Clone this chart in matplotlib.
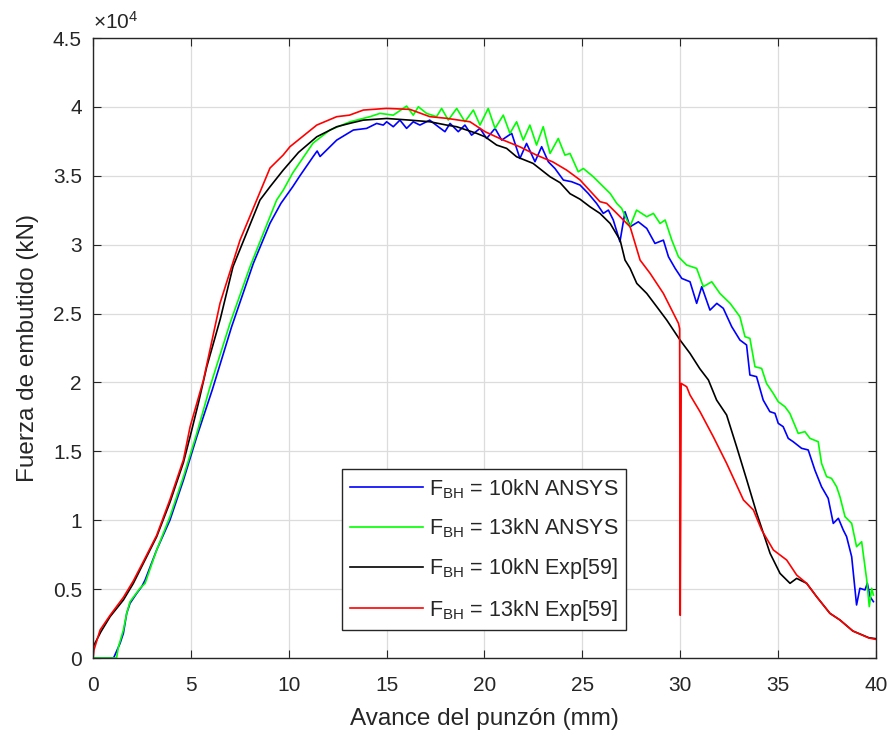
import matplotlib
matplotlib.use("Agg")
import matplotlib.pyplot as plt
from matplotlib.ticker import FuncFormatter, MultipleLocator

plt.rcParams['font.family'] = ['Liberation Sans', 'DejaVu Sans']
plt.rcParams['mathtext.fontset'] = 'custom'
plt.rcParams['mathtext.rm'] = 'Liberation Sans'
plt.rcParams['mathtext.it'] = 'Liberation Sans'

# Punch force vs punch stroke (x in mm, force values as plotted)
ansys10_x = [0, 1.05, 1.38, 1.55, 1.72, 1.89, 2.23, 2.49, 2.66, 3.25, 3.93, 4.62, 5.3, 6.1, 7.08,
             8.19, 9.04, 9.6, 10.2, 10.57, 11.25, 11.45, 11.6, 12.45, 13.3, 13.98, 14.49, 14.83,
             15.0, 15.34, 15.68, 16.02, 16.36, 16.7, 17.2, 17.64, 17.98, 18.24, 18.66, 19.0, 19.34,
             19.77, 20.11, 20.54, 20.88, 21.39, 21.81, 22.15, 22.58, 22.92, 23.26, 23.6, 24.03,
             24.45, 24.88, 25.3, 25.73, 26.07, 26.33, 26.58, 26.92, 27.18, 27.44, 27.86, 28.29,
             28.71, 29.14, 29.4, 29.74, 30.08, 30.5, 30.84, 31.1, 31.52, 31.87, 32.2, 32.63, 33.05,
             33.39, 33.56, 33.9, 34.24, 34.58, 34.84, 35.01, 35.26, 35.52, 35.77, 36.2, 36.54,
             36.88, 37.22, 37.56, 37.82, 38.08, 38.33, 38.5, 38.76, 39.01, 39.18, 39.44, 39.56,
             39.7, 39.87]
ansys10_f = [0, 0, 1060, 1790, 3240, 3970, 4690, 5180, 5660, 7840, 10010, 12920, 16060, 19500, 24040,
             28640, 31550, 33000, 34200, 35000, 36400, 36800, 36400, 37590, 38320, 38440, 38800, 38680,
             38920, 38560, 39040, 38440, 38920, 38680, 39040, 38560, 38200, 38800, 38200, 38680, 37950,
             38440, 37710, 38440, 37590, 38080, 36260, 37350, 36020, 37110, 36020, 35530, 34690,
             34570, 34330, 33720, 32990, 32270, 32510, 31790, 30210, 32390, 31300, 31660, 31180,
             30090, 30330, 29120, 28280, 27550, 27310, 25740, 26950, 25250, 25740, 25380, 24050, 23080,
             22720, 20540, 20420, 18720, 17880, 17760, 17030, 16790, 15940, 15700, 15220, 15100,
             13640, 12430, 11590, 9770, 10140, 9290, 8810, 7350, 3850, 5060, 4940, 5420,
             4450, 4090]

ansys13_x = [0, 1.2, 1.3, 1.55, 1.72, 1.89, 2.4, 2.66, 3.25, 3.93, 4.62, 5.3, 5.98, 7.0, 8.02,
             9.38, 9.72, 10.2, 11.24, 12.1, 13.13, 14.15, 14.66, 15.34, 16.02, 16.36, 16.62, 17.04,
             17.55, 17.81, 18.15, 18.58, 19.0, 19.43, 19.77, 20.19, 20.54, 20.96, 21.3, 21.64,
             21.98, 22.32, 22.66, 23.0, 23.35, 23.77, 24.11, 24.37, 24.79, 25.05, 25.56, 25.9,
             26.42, 26.76, 27.01, 27.43, 27.77, 28.29, 28.63, 28.97, 29.23, 29.57, 29.91, 30.33,
             30.84, 31.18, 31.61, 32.03, 32.55, 33.05, 33.31, 33.56, 33.82, 34.16, 34.41, 34.75,
             35.01, 35.35, 35.6, 36.03, 36.37, 36.63, 37.05, 37.22, 37.48, 37.73, 37.99, 38.16,
             38.42, 38.76, 39.01, 39.27, 39.53, 39.66, 39.78, 39.87]
ansys13_f = [0, 0, 820, 2030, 3240, 4090, 5060, 5420, 7840, 10260, 13160, 16300, 19700, 24300, 28400,
             33240, 33960, 35200, 37370, 38320, 38920, 39290, 39530, 39400, 40060, 39400, 40010, 39530,
             39290, 39890, 39040, 39890, 38920, 39770, 38680, 39890, 38440, 39400, 38080, 38920,
             37590, 38680, 37230, 38560, 36620, 37710, 36500, 36620, 35290, 35530, 34930, 34450,
             33720, 32990, 32630, 31300, 32510, 32030, 32270, 31540, 31790, 30330, 29120, 28520,
             28280, 26950, 27310, 26460, 25740, 24770, 23320, 23200, 21140, 21020, 19930, 19210,
             18600, 18240, 17760, 16300, 16430, 15940, 15700, 14130, 13160, 13040, 12430, 11710,
             10260, 9770, 8080, 8440, 5660, 3730, 5060, 4570]

exp10_x = [0, 0.4, 0.87, 1.55, 2.06, 2.57, 3.25, 3.93, 4.62, 5.0, 5.4, 5.81, 6.5, 7.15, 8.53, 9.04,
           9.71, 10.5, 11.43, 12.45, 13.1, 13.81, 15.0, 16.19, 17.21, 18.07, 18.58, 19.6, 20.03,
           20.62, 21.13, 21.64, 22.48, 23.35, 23.86, 24.37, 24.88, 25.39, 25.9, 26.42, 26.93,
           27.18, 27.44, 27.78, 28.29, 28.8, 29.31, 29.99, 30.5, 31.0, 31.44, 31.86, 32.37, 32.88,
           33.4, 33.91, 34.25, 34.59, 35.1, 35.61, 35.95, 36.46, 36.97, 37.65, 38.16, 38.82,
           39.64, 40.0]
exp10_f = [800, 1900, 3000, 4210, 5420, 6870, 8800, 11300, 14200, 16300, 18600, 21140, 24600, 28400,
           33240, 34200, 35400, 36700, 37830, 38560, 38800, 39040, 39160, 39040, 38920, 38680,
           38560, 38080, 37830, 37230, 36990, 36380, 35900, 34930, 34500, 33700, 33300, 32750,
           32270, 31540, 30330, 28880, 28280, 27190, 26460, 25500, 24530, 23080, 22110, 21000,
           20180, 18720, 17640, 15340, 12920, 10500, 9050, 7600, 6140, 5420, 5780, 5420, 4450,
           3240, 2760, 1960, 1470, 1400]

exp13_x = [0, 0.05, 0.36, 0.87, 1.55, 2.06, 2.57, 3.25, 3.93, 4.62, 4.96, 5.3, 5.64, 6.49, 7.51,
           9.04, 9.71, 10.06, 11.43, 12.45, 13.1, 13.81, 15.0, 16.19, 17.21, 18.07, 19.26, 20.03,
           20.96, 21.81, 22.66, 23.5, 24.2, 24.88, 25.9, 26.24, 26.76, 27.26, 27.44, 27.95, 28.46,
           29.14, 29.91, 29.97, 30.0, 30.05, 30.33, 30.5, 31.01, 31.69, 32.37, 33.23, 33.74, 34.16,
           34.76, 35.44, 35.95, 36.46, 36.97, 37.65, 38.16, 38.82, 39.64, 40.0]
exp13_f = [0, 600, 2030, 3100, 4400, 5600, 7000, 8900, 11500, 14400, 16790, 18480, 20170, 25760,
           30330, 35560, 36500, 37110, 38680, 39290, 39400, 39770, 39890, 39820, 39290, 39170,
           38920, 38200, 37590, 37100, 36500, 36000, 35410, 34700, 33120, 33000, 32270, 31550,
           31300, 28880, 27920, 26460, 24290, 23900, 3100, 19930, 19690, 19090, 17880, 16060,
           14130, 11470, 10740, 9290, 7840, 7110, 6020, 5420, 4450, 3240, 2760, 1960, 1450, 1350]

series = [
    (ansys10_x, ansys10_f, (0, 0, 1), r'F$_{\mathrm{BH}}$ = 10kN ANSYS'),
    (ansys13_x, ansys13_f, (0, 1, 0), r'F$_{\mathrm{BH}}$ = 13kN ANSYS'),
    (exp10_x, exp10_f, (0, 0, 0), r'F$_{\mathrm{BH}}$ = 10kN Exp[59]'),
    (exp13_x, exp13_f, (1, 0, 0), r'F$_{\mathrm{BH}}$ = 13kN Exp[59]'),
]

fig = plt.figure(figsize=(8.92, 7.38), dpi=100)
ax = fig.add_axes([0.1043, 0.1084, 0.8777, 0.8401])

for xs, fs, col, lab in series:
    ax.plot(xs, fs, color=col, lw=1.2, label=lab)

ax.set_xlim(0, 40)
ax.set_ylim(0, 45000)
ax.xaxis.set_major_locator(MultipleLocator(5))
ax.yaxis.set_major_locator(MultipleLocator(5000))
ax.yaxis.set_major_formatter(FuncFormatter(lambda v, p: f"{v/1e4:g}"))
ax.grid(True, color='#dcdcdc', lw=0.9)
ax.set_axisbelow(True)

txt = '#262626'
for s in ax.spines.values():
    s.set_color(txt)
    s.set_linewidth(1.0)
ax.tick_params(direction='in', length=6, width=0.8, top=True, right=True,
               labelsize=15, colors=txt)
ax.tick_params(axis='x', pad=13)
ax.tick_params(axis='y', pad=8)

ax.text(0.0, 1.008, r'$\times10^{4}$', transform=ax.transAxes, fontsize=15,
        color=txt, ha='left', va='bottom')

ax.set_xlabel('Avance del punzón (mm)', fontsize=17.5, color=txt, labelpad=9)
ax.set_ylabel('Fuerza de embutido (kN)', fontsize=17.5, color=txt, labelpad=10)

leg = ax.legend(loc='lower left', bbox_to_anchor=(0.318, 0.045), fontsize=15.5,
                handlelength=3.4, fancybox=False, framealpha=1, edgecolor='#262626',
                borderpad=0.35, labelspacing=0.75, handletextpad=0.3, borderaxespad=0)
leg.get_frame().set_linewidth(1.0)
for t in leg.get_texts():
    t.set_color(txt)

fig.savefig('out.png', dpi=100)
